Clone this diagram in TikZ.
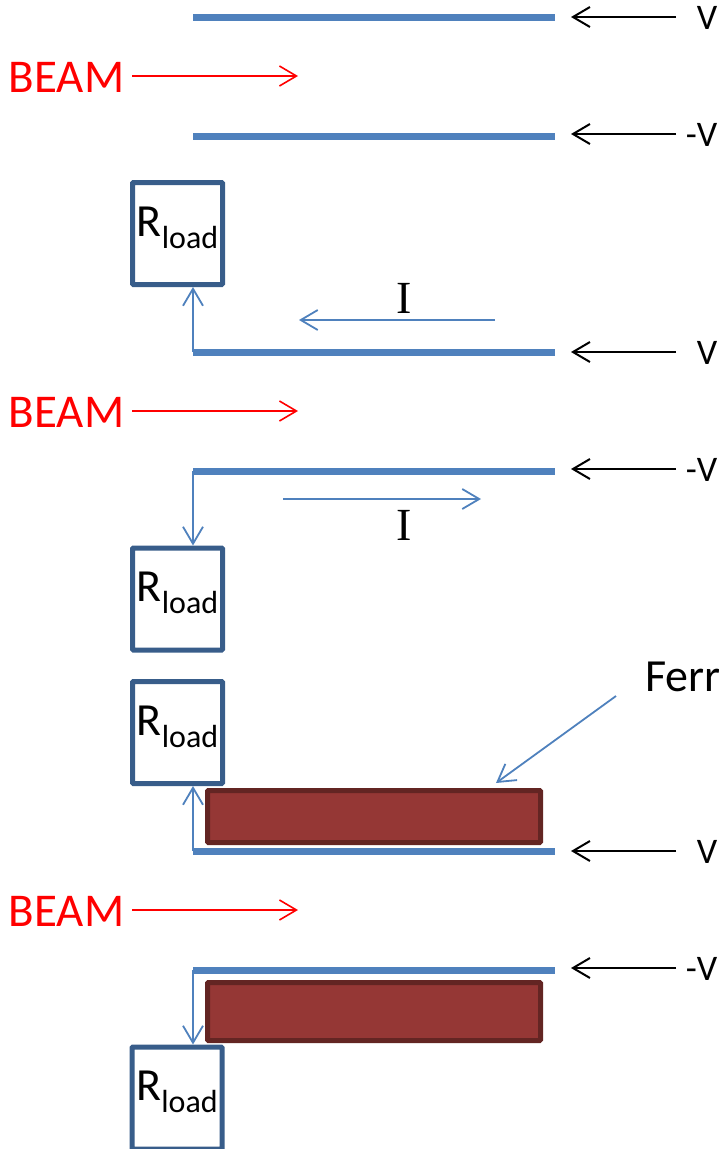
\documentclass[tikz,border=0pt]{standalone}
\usepackage{fontspec}
\setmainfont{Carlito}
\newfontfamily\serifI{Liberation Serif}
\usetikzlibrary{arrows.meta,positioning}
\definecolor{platecol}{HTML}{4F81BD}
\definecolor{boxcol}{HTML}{385D8A}
\definecolor{ferfill}{HTML}{953735}
\definecolor{ferline}{HTML}{632523}
\newcommand{\Rload}{\rule[-24pt]{0pt}{1pt}{\fontsize{46}{46}\selectfont R}\raisebox{-12pt}{\fontsize{32}{32}\selectfont load}}
\tikzset{
  plate/.style={rectangle,fill=platecol,minimum width=362,minimum height=7,inner sep=0,outer sep=0},
  rbox/.style={rectangle,draw=boxcol,line width=5,rounded corners=1,minimum width=90,minimum height=102,inner sep=0,fill=white},
  ferbox/.style={rectangle,draw=ferline,fill=ferfill,line width=5,rounded corners=1,minimum width=333,inner sep=0},
  beamlab/.style={text=red,font=\fontsize{47}{47}\selectfont,inner sep=0},
  vlab/.style={font=\fontsize{36}{36}\selectfont,inner sep=0},
  ilab/.style={font=\fontsize{46}{46}\selectfont\serifI,inner sep=0},
  redarr/.style={red,line width=1.6,-{Straight Barb[length=17,width=20]}},
  bluearr/.style={platecol,line width=1.8,-{Straight Barb[length=17,width=20]}},
  blackarr/.style={black,line width=2,-{Straight Barb[length=17,width=20]}}
}
\begin{document}
\begin{tikzpicture}[x=1pt,y=-1pt]
  \useasboundingbox (0,0) rectangle (719,1149);
  % plates
  \node[plate] (P1) at (374,17) {};
  \node[plate] (P2) at (374,136) {};
  \node[plate] (P3) at (374,352) {};
  \node[plate] (P4) at (374,471) {};
  \node[plate] (P5) at (374,851) {};
  \node[plate] (P6) at (374,970) {};
  % ferrite
  \node[ferbox,minimum height=52] (F1) at (374,816.5) {};
  \node[ferbox,minimum height=58] (F2) at (374,1011.5) {};
  % loads
  \node[rbox] (R1) at (177.5,233.5) {\Rload};
  \node[rbox] (R2) at (177.5,599) {\Rload};
  \node[rbox] (R3) at (177.5,732.5) {\Rload};
  \node[rbox] (R4) at (177,1098) {\Rload};
  % beam
  \node[beamlab] (B1) at (66.5,77.5) {BEAM};
  \node[beamlab] (B2) at (66.5,412.5) {BEAM};
  \node[beamlab] (B3) at (66.5,911.5) {BEAM};
  \coordinate (B1e) at (298,76);
  \coordinate (B2e) at (298,411);
  \coordinate (B3e) at (298,910);
  \draw[redarr] ([xshift=8]B1.east |- B1e) -- (B1e);
  \draw[redarr] ([xshift=8]B2.east |- B2e) -- (B2e);
  \draw[redarr] ([xshift=8]B3.east |- B3e) -- (B3e);
  % voltages
  \node[vlab] (V1) at (707,18) {V};
  \node[vlab] (V2) at (701.5,135) {-V};
  \node[vlab] (V3) at (707,353) {V};
  \node[vlab] (V4) at (701.5,470) {-V};
  \node[vlab] (V5) at (707,852) {V};
  \node[vlab] (V6) at (701.5,969) {-V};
  \coordinate (T1) at (676,17);
  \coordinate (T2) at (676,134);
  \coordinate (T3) at (676,352);
  \coordinate (T4) at (676,469);
  \coordinate (T5) at (676,851);
  \coordinate (T6) at (676,968);
  \coordinate (H1) at (571,17);
  \coordinate (H2) at (571,134);
  \coordinate (H3) at (571,352);
  \coordinate (H4) at (571,469);
  \coordinate (H5) at (571,851);
  \coordinate (H6) at (571,968);
  \draw[blackarr] (T1) -- (H1);
  \draw[blackarr] (T2) -- (H2);
  \draw[blackarr] (T3) -- (H3);
  \draw[blackarr] (T4) -- (H4);
  \draw[blackarr] (T5) -- (H5);
  \draw[blackarr] (T6) -- (H6);
  % currents to the loads
  \draw[bluearr] (P3.west) -- (P3.west |- R1.south);
  \draw[bluearr] (P4.west) -- (P4.west |- R2.north);
  \draw[bluearr] (P5.west) -- (P5.west |- R3.south);
  \draw[bluearr] (P6.west) -- (P6.west |- R4.north);
  % currents in the plates
  \coordinate (I1a) at (495,320);
  \coordinate (I1b) at (299,320);
  \coordinate (I2a) at (283,499);
  \coordinate (I2b) at (481,499);
  \draw[bluearr] (I1a) -- (I1b);
  \draw[bluearr] (I2a) -- (I2b);
  \node[ilab] (I1) at (404,298) {I};
  \node[ilab] (I2) at (404,525) {I};
  % ferrite label
  \node[font=\fontsize{46}{46}\selectfont,inner sep=0,anchor=west] (FL) at (645,677) {Ferr};
  \coordinate (FLa) at (616,696);
  \coordinate (FLb) at (496,783);
  \draw[bluearr] (FLa) -- (FLb);
\end{tikzpicture}
\end{document}
